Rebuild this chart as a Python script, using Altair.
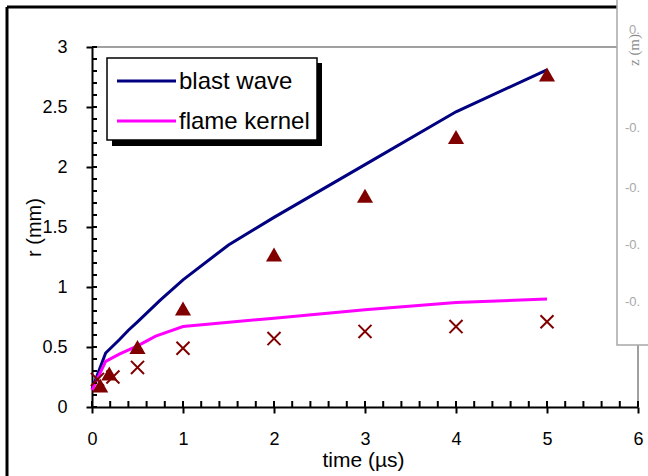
import altair as alt
import pandas as pd

# ---- data ----
blast_t = [0.0, 0.15, 0.3, 0.4, 0.5, 0.75, 1.0, 1.5, 2.0, 3.0, 4.0, 5.0]
blast_r = [0.15, 0.45, 0.56, 0.64, 0.71, 0.89, 1.06, 1.35, 1.58, 2.02, 2.46, 2.81]
flame_t = [0.0, 0.15, 0.3, 0.5, 0.7, 1.0, 2.0, 3.0, 4.0, 5.0]
flame_r = [0.14, 0.38, 0.44, 0.51, 0.59, 0.67, 0.74, 0.81, 0.87, 0.90]
tri_t = [0.09, 0.19, 0.5, 1.0, 2.0, 3.0, 4.0, 5.0]
tri_r = [0.18, 0.28, 0.50, 0.82, 1.27, 1.76, 2.25, 2.77]
cross_t = [0.06, 0.23, 0.5, 1.0, 2.0, 3.0, 4.0, 5.0]
cross_r = [0.23, 0.25, 0.33, 0.49, 0.57, 0.63, 0.67, 0.71]
series_names = ["blast wave", "flame kernel"]
series_colors = ["#000080", "#FF00FF"]
marker_color = "#800000"
x_ticks = [0, 1, 2, 3, 4, 5, 6]
y_ticks = [0, 0.5, 1, 1.5, 2, 2.5, 3]
x_minor = [round(i * 0.2, 1) for i in range(31)]
y_minor = [round(i * 0.1, 1) for i in range(31)]
side_labels = ["0.", "-0.", "-0.", "-0.", "-0."]

FONT = "Liberation Sans"
W, H = 546, 360

lines_df = pd.DataFrame({
    "t": blast_t + flame_t,
    "r": blast_r + flame_r,
    "series": [series_names[0]] * len(blast_t) + [series_names[1]] * len(flame_t),
})
tri_df = pd.DataFrame({"t": tri_t, "r": tri_r})
cross_df = pd.DataFrame({"t": cross_t, "r": cross_r})

xscale = alt.Scale(domain=[0, 6], nice=False, zero=True)
yscale = alt.Scale(domain=[0, 3], nice=False, zero=True)

xaxis = alt.Axis(values=x_ticks, format="d", grid=False, labelFont=FONT, labelFontSize=18,
                 labelColor="black", domainColor="black", domainWidth=2, tickColor="black",
                 tickWidth=2, tickSize=6, labelPadding=17, title="time (µs)", titleFont=FONT,
                 titleFontSize=21, titleFontWeight="normal", titleColor="black",
                 titleX=271, titleY=53, titleBaseline="middle", titleAlign="center",
                 labelFlush=False)
yaxis = alt.Axis(values=y_ticks, format="~g", grid=False, labelFont=FONT, labelFontSize=18,
                 labelColor="black", domainColor="black", domainWidth=2, tickColor="black",
                 tickWidth=2, tickSize=6, labelPadding=19, title="r (mm)", titleFont=FONT,
                 titleFontSize=20, titleFontWeight="normal", titleColor="black",
                 titleX=-58, titleY=180, titleAngle=270, titleBaseline="middle",
                 titleAlign="center", labelFlush=False)

one = pd.DataFrame({"a": [0]})

# plot border (gray top and right)
border_top = alt.Chart(one).mark_rule(color="#808080", strokeWidth=1.5).encode(
    x=alt.value(0), x2=alt.value(W), y=alt.value(0))
border_right = alt.Chart(one).mark_rule(color="#808080", strokeWidth=1.5).encode(
    x=alt.value(W), y=alt.value(0), y2=alt.value(H))

lines = alt.Chart(lines_df).mark_line(strokeWidth=3).encode(
    x=alt.X("t:Q", scale=xscale, axis=xaxis),
    y=alt.Y("r:Q", scale=yscale, axis=yaxis),
    color=alt.Color("series:N", scale=alt.Scale(domain=series_names, range=series_colors), legend=None),
    detail="series:N",
)

# inward ticks
ytick_df = pd.DataFrame({"v": y_minor})
xtick_df = pd.DataFrame({"v": x_minor})
ytick_in = alt.Chart(ytick_df).mark_rule(color="black", strokeWidth=2).encode(
    y=alt.Y("v:Q", scale=yscale, axis=yaxis), x=alt.value(0), x2=alt.value(5))
xtick_in = alt.Chart(xtick_df).mark_rule(color="black", strokeWidth=2).encode(
    x=alt.X("v:Q", scale=xscale, axis=xaxis), y=alt.value(H), y2=alt.value(H - 6))

tris = alt.Chart(tri_df).mark_point(shape="triangle-up", filled=True, size=260, opacity=1,
                                    color=marker_color).encode(
    x=alt.X("t:Q", scale=xscale, axis=xaxis), y=alt.Y("r:Q", scale=yscale, axis=yaxis))
crosses = alt.Chart(cross_df).mark_point(shape="M-1,-1L1,1M-1,1L1,-1", filled=False, size=170,
                                         strokeWidth=2, opacity=1, color=marker_color).encode(
    x=alt.X("t:Q", scale=xscale, axis=xaxis), y=alt.Y("r:Q", scale=yscale, axis=yaxis))

# legend (manual, with shadow)
leg_shadow = alt.Chart(one).mark_rect(color="black").encode(
    x=alt.value(20), x2=alt.value(230), y=alt.value(16), y2=alt.value(99))
leg_box = alt.Chart(one).mark_rect(fill="white", stroke="black", strokeWidth=1.5).encode(
    x=alt.value(15), x2=alt.value(225), y=alt.value(11), y2=alt.value(93))
leg_layers = []
for i, (nm, col) in enumerate(zip(series_names, series_colors)):
    yy = 34 + 40 * i
    leg_layers.append(alt.Chart(one).mark_rule(color=col, strokeWidth=3).encode(
        x=alt.value(25), x2=alt.value(84), y=alt.value(yy)))
    leg_layers.append(alt.Chart(one).mark_text(text=nm, font=FONT, fontSize=24, align="left",
                                               baseline="middle", color="black").encode(
        x=alt.value(87), y=alt.value(yy + 1)))

# outer frame (black)
frame_left = alt.Chart(one).mark_rule(color="black", strokeWidth=3).encode(
    x=alt.value(-85), y=alt.value(-40), y2=alt.value(440))
frame_top = alt.Chart(one).mark_rule(color="black", strokeWidth=3).encode(
    x=alt.value(-85), x2=alt.value(525), y=alt.value(-40))

# overlapping side panel on the right
panel = alt.Chart(one).mark_rect(fill="white", stroke="#a8a8a8", strokeWidth=1.5).encode(
    x=alt.value(525), x2=alt.value(580), y=alt.value(-60), y2=alt.value(298))
side_y = [-17, 81, 141, 198, 255]
side_x = [537, 533, 533, 533, 533]
side_texts = []
for lab, sx, sy in zip(side_labels, side_x, side_y):
    side_texts.append(alt.Chart(one).mark_text(text=lab, font=FONT, fontSize=13, align="left",
                                               baseline="middle", color="#a8a8a8").encode(
        x=alt.value(sx), y=alt.value(sy)))
side_title = alt.Chart(one).mark_text(text="z (m)", font="Liberation Serif", fontSize=15,
                                      angle=270, align="center", baseline="middle",
                                      color="#8a8a8a").encode(x=alt.value(542), y=alt.value(3))

chart = alt.layer(
    lines, border_top, border_right, ytick_in, xtick_in, tris, crosses,
    leg_shadow, leg_box, *leg_layers, frame_left, frame_top, panel, *side_texts, side_title
).properties(
    width=W, height=H,
    padding={"left": 92, "top": 47, "right": 10, "bottom": 69},
    autosize="none",
    background="white",
).configure_view(stroke=None)

chart.save("out.html", embed_options={"renderer": "svg", "actions": False})
